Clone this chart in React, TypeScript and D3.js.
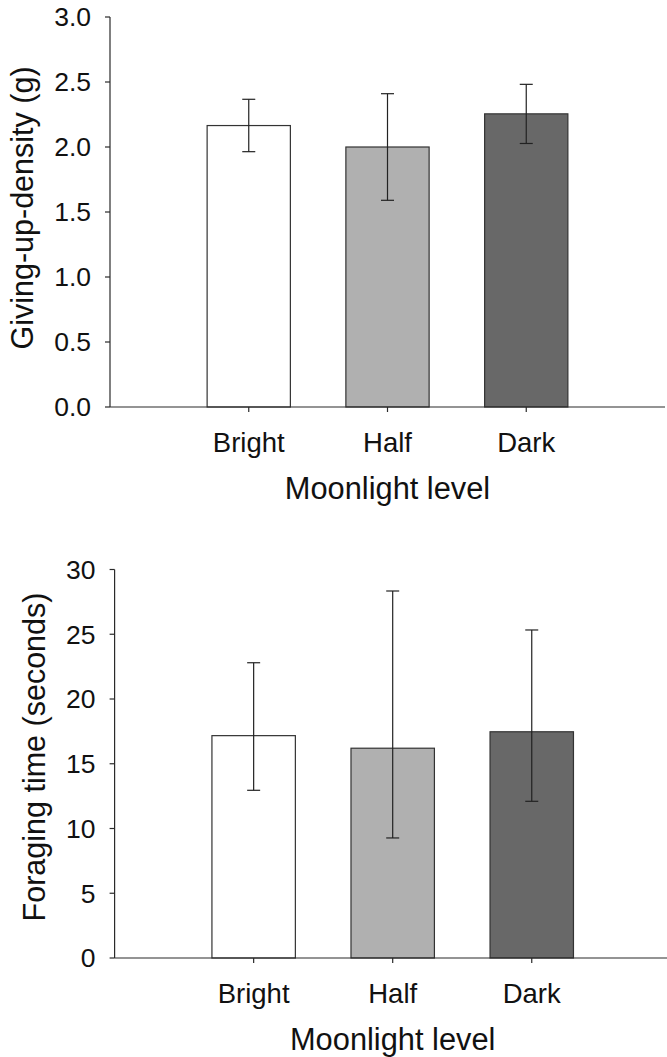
import React from "react";
import * as d3 from "d3";

const categories = ["Bright", "Half", "Dark"];
const fills = ["#ffffff", "#b0b0b0", "#686868"];

const gudMean = [2.165, 2.0, 2.255];
const gudUpper = [2.367, 2.41, 2.482];
const gudLower = [1.964, 1.59, 2.027];
const gudTicks = [0, 0.5, 1.0, 1.5, 2.0, 2.5, 3.0];

const ftMean = [17.17, 16.2, 17.47];
const ftUpper = [22.8, 28.34, 25.33];
const ftLower = [12.95, 9.27, 12.1];
const ftTicks = [0, 5, 10, 15, 20, 25, 30];

const FONT = "'Liberation Sans', Arial, sans-serif";
const AXIS = "#2a2a2a";

type PanelProps = {
  x0: number; x1: number; yTop: number; yBottom: number;
  yMax: number; ticks: number[]; fmt: (v: number) => string;
  mean: number[]; upper: number[]; lower: number[];
  yTitle: string; yTitleX: number; yTitleY: number;
};

function Panel(p: PanelProps) {
  const x = d3.scalePoint<string>().domain(categories).range([p.x0, p.x1]).padding(1);
  const step = x.step();
  const bw = step * 0.6;
  const y = d3.scaleLinear().domain([0, p.yMax]).range([p.yBottom, p.yTop]);
  const cap = 6.5;
  return (
    <g>
      {categories.map((c, i) => (
        <rect key={c} x={(x(c) as number) - bw / 2} y={y(p.mean[i])}
          width={bw} height={y(0) - y(p.mean[i])}
          fill={fills[i]} stroke="#333" strokeWidth={1.2} />
      ))}
      {categories.map((c, i) => {
        const cx = x(c) as number;
        return (
          <g key={c + "e"} stroke="#222" strokeWidth={1.2}>
            <line x1={cx} x2={cx} y1={y(p.upper[i])} y2={y(p.lower[i])} />
            <line x1={cx - cap} x2={cx + cap} y1={y(p.upper[i])} y2={y(p.upper[i])} />
            <line x1={cx - cap} x2={cx + cap} y1={y(p.lower[i])} y2={y(p.lower[i])} />
          </g>
        );
      })}
      <line x1={p.x0} x2={p.x0} y1={y(p.yMax)} y2={y(0)} stroke={AXIS} strokeWidth={1.2} />
      <line x1={p.x0} x2={p.x1} y1={y(0)} y2={y(0)} stroke={AXIS} strokeWidth={1.2} />
      {p.ticks.map((t) => (
        <g key={t}>
          <line x1={p.x0 - 5} x2={p.x0} y1={y(t)} y2={y(t)} stroke={AXIS} strokeWidth={1.2} />
          <text x={p.x0 - 19} y={y(t)} dy="0.35em" textAnchor="end"
            fontFamily={FONT} fontSize={26.5} fill="#111">{p.fmt(t)}</text>
        </g>
      ))}
      {categories.map((c) => (
        <g key={c + "t"}>
          <line x1={x(c) as number} x2={x(c) as number} y1={y(0)} y2={y(0) + 5}
            stroke={AXIS} strokeWidth={1.2} />
          <text x={x(c) as number} y={y(0) + 45} textAnchor="middle"
            fontFamily={FONT} fontSize={27.5} fill="#111">{c}</text>
        </g>
      ))}
      <text x={x("Half") as number} y={y(0) + 92} textAnchor="middle"
        fontFamily={FONT} fontSize={30.8} fill="#111">Moonlight level</text>
      <text transform={`translate(${p.yTitleX},${p.yTitleY}) rotate(-90)`} textAnchor="middle"
        fontFamily={FONT} fontSize={30.5} fill="#111">{p.yTitle}</text>
    </g>
  );
}

export default function App() {
  return (
    <svg width={667} height={1057}
      style={{ position: "absolute", left: 0, top: 0, display: "block", background: "#fff" }}>
      <Panel x0={110} x1={665} yTop={17} yBottom={407} yMax={3}
        ticks={gudTicks} fmt={d3.format(".1f")}
        mean={gudMean} upper={gudUpper} lower={gudLower}
        yTitle="Giving-up-density (g)" yTitleX={33} yTitleY={208} />
      <Panel x0={114.6} x1={670.8} yTop={569.5} yBottom={958} yMax={30}
        ticks={ftTicks} fmt={d3.format("d")}
        mean={ftMean} upper={ftUpper} lower={ftLower}
        yTitle="Foraging time (seconds)" yTitleX={45} yTitleY={757} />
    </svg>
  );
}
